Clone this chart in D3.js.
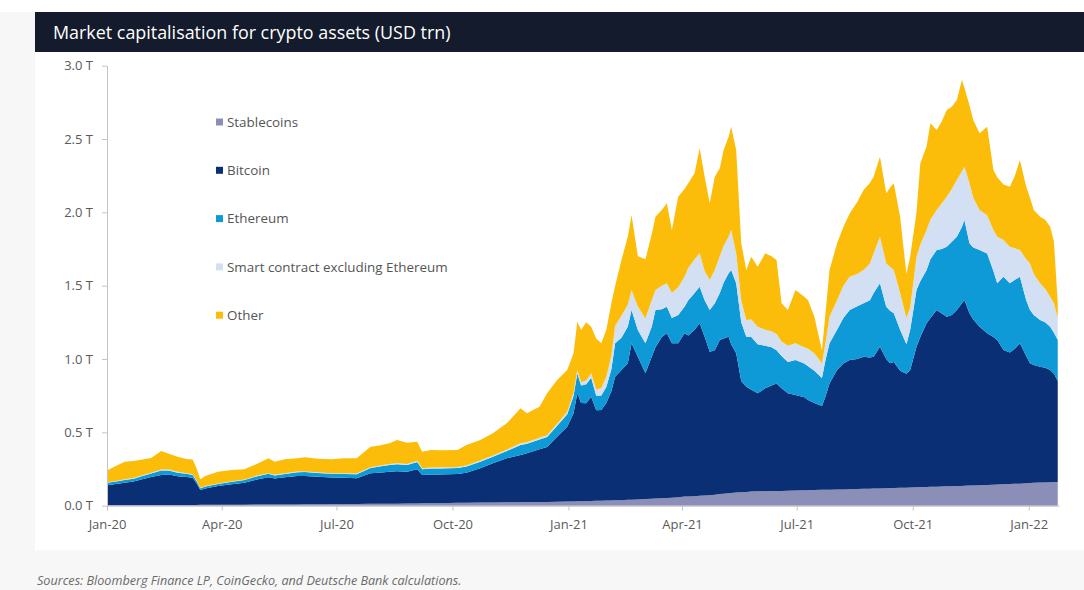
<!DOCTYPE html>
<html>
<head>
<meta charset="utf-8">
<script src="https://cdn.jsdelivr.net/npm/d3@7"></script>
<style>
  html, body { margin: 0; padding: 0; background: #f7f7f7; }
  svg { display: block; font-family: "Open Sans", "Noto Sans", sans-serif; }
</style>
</head>
<body>
<svg id="chart" width="1084" height="590"></svg>
<script>
// Observation dates (market capitalisation snapshots)
const dates = [
  "2020-01-01","2020-01-08","2020-01-15","2020-01-22","2020-01-29","2020-02-05","2020-02-13","2020-02-19","2020-02-26","2020-03-04",
  "2020-03-09","2020-03-12","2020-03-15","2020-03-19","2020-03-29","2020-04-09","2020-04-19","2020-04-30","2020-05-08","2020-05-13",
  "2020-05-21","2020-05-31","2020-06-06","2020-06-16","2020-06-27","2020-07-07","2020-07-17","2020-07-28","2020-08-04","2020-08-12",
  "2020-08-18","2020-08-26","2020-09-03","2020-09-07","2020-09-14","2020-09-21","2020-10-05","2020-10-12","2020-10-23","2020-11-02",
  "2020-11-13","2020-11-24","2020-11-29","2020-12-09","2020-12-15","2020-12-23","2020-12-31","2021-01-05","2021-01-08","2021-01-11",
  "2021-01-15","2021-01-19","2021-01-23","2021-01-27","2021-01-31","2021-02-04","2021-02-07","2021-02-12","2021-02-17","2021-02-20",
  "2021-02-25","2021-03-03","2021-03-08","2021-03-11","2021-03-16","2021-03-20","2021-03-24","2021-03-29","2021-04-03","2021-04-06",
  "2021-04-11","2021-04-15","2021-04-19","2021-04-23","2021-04-27","2021-05-01","2021-05-04","2021-05-08","2021-05-10","2021-05-14",
  "2021-05-18","2021-05-22","2021-05-26","2021-05-31","2021-06-06","2021-06-11","2021-06-15","2021-06-19","2021-06-24","2021-06-30",
  "2021-07-07","2021-07-10","2021-07-15","2021-07-21","2021-07-24","2021-07-27","2021-08-02","2021-08-07","2021-08-12","2021-08-18",
  "2021-08-23","2021-08-28","2021-08-31","2021-09-05","2021-09-10","2021-09-13","2021-09-16","2021-09-21","2021-09-26","2021-09-29",
  "2021-10-04","2021-10-07","2021-10-12","2021-10-15","2021-10-20","2021-10-24","2021-10-28","2021-11-01","2021-11-05","2021-11-09",
  "2021-11-11","2021-11-15","2021-11-18","2021-11-23","2021-11-29","2021-12-04","2021-12-07","2021-12-12","2021-12-17","2021-12-21",
  "2021-12-25","2021-12-30","2022-01-02","2022-01-05","2022-01-10","2022-01-14","2022-01-18","2022-01-21","2022-01-24"
];

// Market capitalisation by segment, USD trillion
const stablecoins = [
  .005,.005,.005,.005,.005,.005,.005,.005,.005,.005,
  .005,.005,.006,.006,.007,.007,.007,.008,.008,.008,
  .009,.009,.010,.010,.011,.012,.012,.013,.013,.014,
  .014,.015,.015,.016,.016,.017,.020,.020,.021,.022,
  .023,.024,.025,.026,.026,.027,.028,.029,.030,.031,
  .031,.032,.033,.034,.035,.036,.037,.038,.040,.041,
  .043,.046,.048,.049,.051,.053,.055,.058,.062,.063,
  .065,.067,.069,.072,.075,.080,.082,.085,.087,.090,
  .092,.094,.096,.098,.099,.100,.100,.101,.102,.104,
  .105,.106,.107,.108,.108,.109,.110,.111,.112,.114,
  .115,.116,.117,.118,.119,.120,.120,.122,.123,.124,
  .126,.127,.128,.129,.130,.131,.132,.133,.134,.135,
  .136,.137,.138,.139,.141,.143,.144,.146,.148,.149,
  .150,.153,.155,.156,.158,.159,.160,.161,.162
];
const bitcoin = [
  .135,.143,.152,.160,.175,.190,.205,.207,.195,.190,
  .185,.148,.101,.112,.127,.139,.150,.172,.186,.177,
  .185,.193,.192,.188,.182,.178,.176,.208,.212,.218,
  .221,.217,.233,.193,.196,.195,.196,.205,.234,.267,
  .300,.322,.332,.359,.374,.443,.511,.601,.736,.669,
  .667,.711,.617,.618,.665,.744,.843,.887,.930,1.066,
  .973,.857,.968,1.031,1.099,1.122,1.052,1.049,1.113,1.097,
  1.135,1.177,1.083,.978,.985,1.050,1.058,1.067,1.013,.949,
  .758,.717,.694,.668,.701,.720,.734,.699,.664,.651,
  .635,.614,.593,.572,.642,.725,.815,.859,.881,.886,
  .901,.894,.899,.966,.881,.851,.860,.798,.777,.801,
  .958,1.023,1.116,1.151,1.204,1.179,1.157,1.167,1.200,1.245,
  1.266,1.175,1.132,1.081,1.034,1.007,.986,.916,.897,.921,
  .957,.867,.816,.804,.790,.781,.765,.739,.688
];
const ethereum = [
  .016,.017,.018,.019,.022,.025,.030,.028,.025,.022,
  .020,.016,.012,.013,.014,.017,.018,.023,.023,.021,
  .022,.026,.027,.025,.024,.026,.026,.036,.042,.046,
  .048,.046,.050,.040,.042,.042,.041,.042,.045,.045,
  .050,.068,.065,.066,.068,.075,.085,.120,.135,.120,
  .130,.130,.100,.100,.110,.150,.227,.220,.250,.227,
  .182,.204,.204,.254,.190,.182,.173,.193,.182,.240,
  .250,.249,.248,.284,.320,.320,.380,.433,.507,.477,
  .400,.341,.360,.334,.290,.260,.226,.220,.214,.238,
  .230,.230,.220,.190,.250,.273,.275,.310,.341,.360,
  .364,.390,.434,.432,.357,.359,.332,.280,.200,.275,
  .387,.380,.363,.400,.409,.440,.477,.500,.500,.520,
  .546,.477,.490,.523,.545,.450,.386,.499,.471,.470,
  .454,.380,.363,.340,.318,.310,.295,.280,.280
];
const smartContract = [
  .004,.004,.005,.005,.005,.005,.006,.006,.006,.005,
  .005,.004,.003,.003,.004,.004,.004,.005,.005,.005,
  .005,.005,.005,.005,.005,.005,.005,.006,.006,.007,
  .007,.007,.008,.007,.007,.007,.007,.007,.008,.008,
  .009,.012,.011,.012,.013,.014,.016,.020,.025,.022,
  .025,.030,.040,.050,.070,.090,.120,.150,.150,.137,
  .160,.170,.180,.137,.160,.159,.170,.190,.204,.220,
  .230,.228,.200,.205,.227,.250,.250,.249,.273,.205,
  .150,.114,.120,.120,.110,.110,.110,.100,.110,.114,
  .110,.120,.120,.100,.120,.182,.200,.220,.227,.220,
  .227,.250,.270,.318,.295,.300,.295,.250,.180,.150,
  .227,.250,.273,.270,.273,.310,.341,.360,.387,.380,
  .363,.409,.340,.273,.260,.280,.318,.250,.250,.215,
  .182,.280,.318,.280,.250,.230,.205,.200,.150
];
const other = [
  .080,.101,.120,.116,.108,.100,.127,.109,.103,.096,
  .100,.082,.058,.068,.080,.076,.069,.081,.101,.089,
  .095,.090,.096,.092,.094,.102,.104,.139,.137,.140,
  .158,.145,.130,.112,.119,.117,.116,.140,.140,.152,
  .180,.238,.197,.212,.285,.298,.285,.270,.329,.356,
  .397,.317,.350,.305,.320,.360,.273,.380,.464,.511,
  .342,.403,.450,.499,.516,.546,.430,.617,.599,.578,
  .586,.716,.643,.523,.636,.600,.655,.682,.704,.704,
  .390,.341,.428,.409,.521,.510,.505,.260,.244,.364,
  .345,.330,.249,.090,.210,.318,.389,.400,.432,.490,
  .545,.550,.523,.546,.478,.540,.591,.520,.300,.350,
  .302,.554,.570,.657,.545,.560,.591,.560,.545,.622,
  .539,.532,.530,.523,.604,.409,.406,.379,.409,.495,
  .614,.495,.448,.436,.454,.470,.477,.420,.100
];

const seriesNames = ["Stablecoins", "Bitcoin", "Ethereum", "Smart contract excluding Ethereum", "Other"];
const seriesColors = ["#8b8fb7", "#0b2f74", "#0e9ad7", "#d3e0f3", "#fcbd0a"];
const yTicks = [0, 0.5, 1.0, 1.5, 2.0, 2.5, 3.0];
const xTickDates = ["2020-01-01","2020-04-01","2020-07-01","2020-10-01","2021-01-01","2021-04-01","2021-07-01","2021-10-01","2022-01-01"];

const parse = d3.utcParse("%Y-%m-%d");
const keys = ["stable", "btc", "eth", "smart", "other"];
const rows = dates.map((d, i) => ({
  date: parse(d),
  stable: stablecoins[i], btc: bitcoin[i], eth: ethereum[i], smart: smartContract[i], other: other[i]
}));

const svg = d3.select("#chart");
const W = 1084, H = 590;

// page frame
svg.append("rect").attr("x", 0).attr("y", 0).attr("width", W).attr("height", H).attr("fill", "#f7f7f7");
svg.append("rect").attr("x", 0).attr("y", 0).attr("width", W).attr("height", 12).attr("fill", "#ffffff");
svg.append("rect").attr("x", 35).attr("y", 12).attr("width", W - 35).attr("height", 538).attr("fill", "#ffffff");
svg.append("rect").attr("x", 35).attr("y", 12).attr("width", W - 35).attr("height", 40).attr("fill", "#131b2c");
svg.append("text").attr("x", 53).attr("y", 39)
  .attr("fill", "#ffffff").attr("font-size", 17.9)
  .text("Market capitalisation for crypto assets (USD trn)");

// scales
const x = d3.scaleUtc().domain([parse("2020-01-01"), parse("2022-01-25")]).range([107, 1059]);
const y = d3.scaleLinear().domain([0, 3]).range([505.7, 65.7]);

// stacked areas
const stack = d3.stack().keys(keys);
const layers = stack(rows);
const area = d3.area()
  .x(d => x(d.data.date))
  .y0(d => y(d[0]))
  .y1(d => y(d[1]));

svg.append("g").selectAll("path").data(layers).join("path")
  .attr("d", area)
  .attr("fill", (d, i) => seriesColors[i]);

// axes
const axisColor = "#c4c4c4";
const yAxis = svg.append("g").attr("transform", "translate(107,0)")
  .call(d3.axisLeft(y).tickValues(yTicks).tickFormat(d => d.toFixed(1) + " T").tickSize(5).tickSizeOuter(0).tickPadding(9));
const xAxis = svg.append("g").attr("transform", "translate(0,505.7)")
  .call(d3.axisBottom(x).tickValues(xTickDates.map(parse)).tickFormat(d3.utcFormat("%b-%y")).tickSize(5).tickSizeOuter(0).tickPadding(9));

[yAxis, xAxis].forEach(g => {
  g.select(".domain").attr("stroke", axisColor);
  g.selectAll(".tick line").attr("stroke", axisColor);
  g.selectAll(".tick text").attr("fill", "#5a5a5a").attr("font-size", 13)
    .attr("font-family", "'Open Sans', 'Noto Sans', sans-serif");
});

// legend
const legend = svg.append("g");
seriesNames.forEach((name, i) => {
  const cy = 122 + i * 48.3;
  legend.append("rect").attr("x", 216).attr("y", cy - 3.5).attr("width", 7).attr("height", 7).attr("fill", seriesColors[i]);
  legend.append("text").attr("x", 227).attr("y", cy).attr("dy", "0.35em")
    .attr("fill", "#555555").attr("font-size", 13.4).text(name);
});

// source note
svg.append("text").attr("x", 37).attr("y", 585)
  .attr("fill", "#6a6a6a").attr("font-size", 12.6).attr("font-style", "italic")
  .text("Sources: Bloomberg Finance LP, CoinGecko, and Deutsche Bank calculations.");
</script>
</body>
</html>
